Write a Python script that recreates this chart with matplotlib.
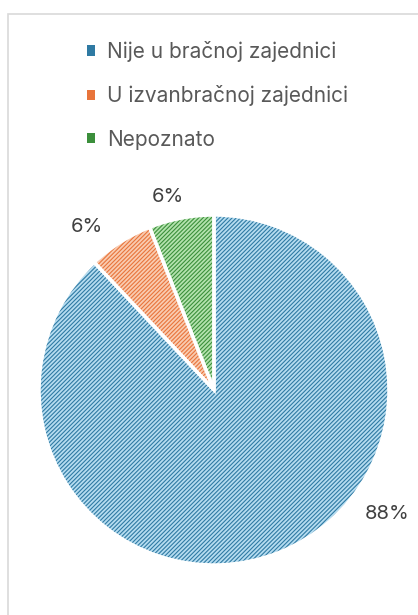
import matplotlib
matplotlib.use("Agg")
import matplotlib.pyplot as plt
from matplotlib.patches import Patch, Rectangle

# podaci
kategorije = ["Nije u bračnoj zajednici", "U izvanbračnoj zajednici", "Nepoznato"]
udjeli = [88, 6, 6]
oznake = ["88%", "6%", "6%"]

# boje (ispuna i šrafura)
ispuna = ["#b5dcf0", "#f9cbb0", "#b3e2ad"]
srafura = ["#2f7aa3", "#e8743b", "#3b8f3b"]

plt.rcParams["font.family"] = ["Inter", "DejaVu Sans"]
plt.rcParams["hatch.linewidth"] = 0.8

W, H = 418, 615
fig = plt.figure(figsize=(W / 100, H / 100), dpi=100)

# okvir grafikona
fig.patches.append(Rectangle((8 / W, -0.01), 1.05, 1 - 14 / H + 0.01,
                             transform=fig.transFigure, fill=False,
                             edgecolor="#d9d9d9", linewidth=1.2))

# os za pitu u pikselima, sredina (214, 390)
cx, cy, half = 214, 390, 230
ax = fig.add_axes([(cx - half) / W, (H - cy - half) / H, 2 * half / W, 2 * half / H])
ax.axis("off")

r = 175
# ispuna
ax.pie(udjeli, colors=ispuna, startangle=90, counterclock=False, radius=r,
       wedgeprops=dict(linewidth=0))
# šrafura
w2, _ = ax.pie(udjeli, colors=["none"] * 3, startangle=90, counterclock=False, radius=r,
               wedgeprops=dict(linewidth=0))
for w, c in zip(w2, srafura):
    w.set_hatch("////////")
    w.set_edgecolor(c)
# bijeli rubovi
ax.pie(udjeli, colors=["none"] * 3, startangle=90, counterclock=False, radius=r,
       wedgeprops=dict(linewidth=2.5, edgecolor="white"))
ax.set_xlim(-half, half)
ax.set_ylim(-half, half)
ax.set_aspect("equal")

# postotci
pozicije = [(173, -124), (-127, 163), (-46, 193)]
for t, (x, y) in zip(oznake, pozicije):
    ax.text(x, y, t, ha="center", va="center", fontsize=14.5, color="#404040")

# legenda
ruke = [Patch(facecolor=c, edgecolor="none") for c in srafura]
fig.legend(ruke, kategorije, loc="upper left",
           bbox_to_anchor=(87 / W, 1 - 41 / H), frameon=False,
           fontsize=15, labelcolor="#595959",
           handlelength=0.4, handleheight=0.4, handletextpad=0.55,
           labelspacing=1.12, borderaxespad=0, borderpad=0)

fig.savefig("out.png", dpi=100)
